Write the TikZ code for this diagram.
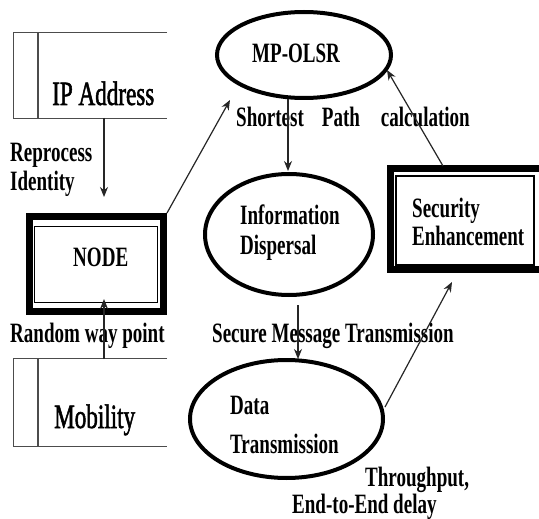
\documentclass[tikz,border=0pt]{standalone}
\usepackage{fontspec}
\setmainfont{Liberation Serif}
\newfontfamily\cbf[FakeStretch=0.68]{Liberation Serif}
\newfontfamily\creg[FakeStretch=0.68,FakeBold=1.5]{Liberation Serif}
\usetikzlibrary{shapes.geometric,arrows.meta}
\tikzset{
  lbl/.style={anchor=base west, inner sep=0pt, font=\cbf\bfseries\fontsize{28}{32}\selectfont},
  big/.style={anchor=base west, inner sep=0pt, font=\creg\fontsize{34}{38}\selectfont},
  oval/.style={ellipse, draw, line width=4pt, inner sep=0pt},
  store/.style={draw=black!70, line width=1.3pt},
  arr/.style={draw=black!85, line width=1.2pt, -{Stealth[length=10pt,width=8pt]}},
  frameout/.style={draw, line width=7pt, inner sep=0pt},
  framein/.style={draw, line width=1.3pt, inner sep=0pt}
}
\begin{document}
\begin{tikzpicture}[x=1pt,y=-1pt]
\useasboundingbox (0,0) rectangle (539,519);
\fill[white] (0,0) rectangle (539,519);

% data stores
\node[inner sep=0pt, minimum width=153pt, minimum height=85pt] (ip) at (90.5,75.5) {};
\draw[store] (ip.north east) -- (ip.north west) -- (ip.south west) -- (ip.south east);
\draw[store] (38,33) -- (38,118);
\node[big] (iptxt) at (52,105) {IP Address};

\node[inner sep=0pt, minimum width=153pt, minimum height=87pt] (mob) at (90.5,402.5) {};
\draw[store] (mob.north east) -- (mob.north west) -- (mob.south west) -- (mob.south east);
\draw[store] (38,359) -- (38,446);
\node[big] (mobtxt) at (54,428) {Mobility};

% NODE box
\node[frameout, minimum width=134pt, minimum height=95pt] (node) at (96.5,264) {};
\node[framein, minimum width=123pt, minimum height=76pt] (nodein) at (96,264.5) {};
\node[lbl] (nodetxt) at (73,266) {NODE};

% Security box
\node[frameout, minimum width=151.5pt, minimum height=101pt] (sec) at (466.25,219) {};
\node[framein, minimum width=138pt, minimum height=89pt] (secin) at (465,220.5) {};
\node[lbl] (sectxt1) at (412,217) {Security};
\node[lbl] (sectxt2) at (412,245) {Enhancement};

% ellipses
\node[oval, minimum width=174pt, minimum height=86pt] (mp) at (304,55) {};
\node[lbl] (mptxt) at (252,63) {MP-OLSR};
\node[oval, minimum width=168pt, minimum height=121pt] (info) at (289,234.5) {};
\node[lbl] (infotxt1) at (240,224) {Information};
\node[lbl] (infotxt2) at (240,254) {Dispersal};
\node[oval, minimum width=193pt, minimum height=118pt] (data) at (286.5,419) {};
\node[lbl] (datatxt1) at (230,414) {Data};
\node[lbl] (datatxt2) at (230,453) {Transmission};

% labels
\node[lbl] (rep1) at (10,161) {Reprocess};
\node[lbl] (rep2) at (10,190) {Identity};
\node[lbl] (rwp) at (10,342) {Random way point};
\node[lbl] (spc) at (236,127) {Shortest\hspace{18pt}Path\hspace{21pt}calculation};
\node[lbl] (smt) at (212,342) {Secure Message Transmission};
\node[lbl] (thr1) at (365,486) {Throughput,};
\node[lbl] (thr2) at (292,513) {End-to-End delay};

% connector end points
\coordinate (ipout) at (104,118);
\coordinate (nodeinpt) at (104,197);
\coordinate (mptip) at (230,100);
\coordinate (mobtop) at (104,359);
\coordinate (nodebot) at (104,299);
\coordinate (mpbot) at (288,99);
\coordinate (infotop) at (288,171);
\coordinate (infobot) at (298,305);
\coordinate (datatop) at (298,359);
\coordinate (dataright) at (385,407);
\coordinate (sectip) at (452,282);
\coordinate (sectop) at (443,166);
\coordinate (mpright) at (387,70);

% connectors
\draw[arr] (ipout) -- (nodeinpt);
\draw[arr] (node.north east) -- (mptip);
\draw[arr] (mobtop) -- (nodebot);
\draw[arr] (mpbot) -- (infotop);
\draw[arr] (infobot) -- (datatop);
\draw[arr] (dataright) -- (sectip);
\draw[arr] (sectop) -- (mpright);
\end{tikzpicture}
\end{document}
